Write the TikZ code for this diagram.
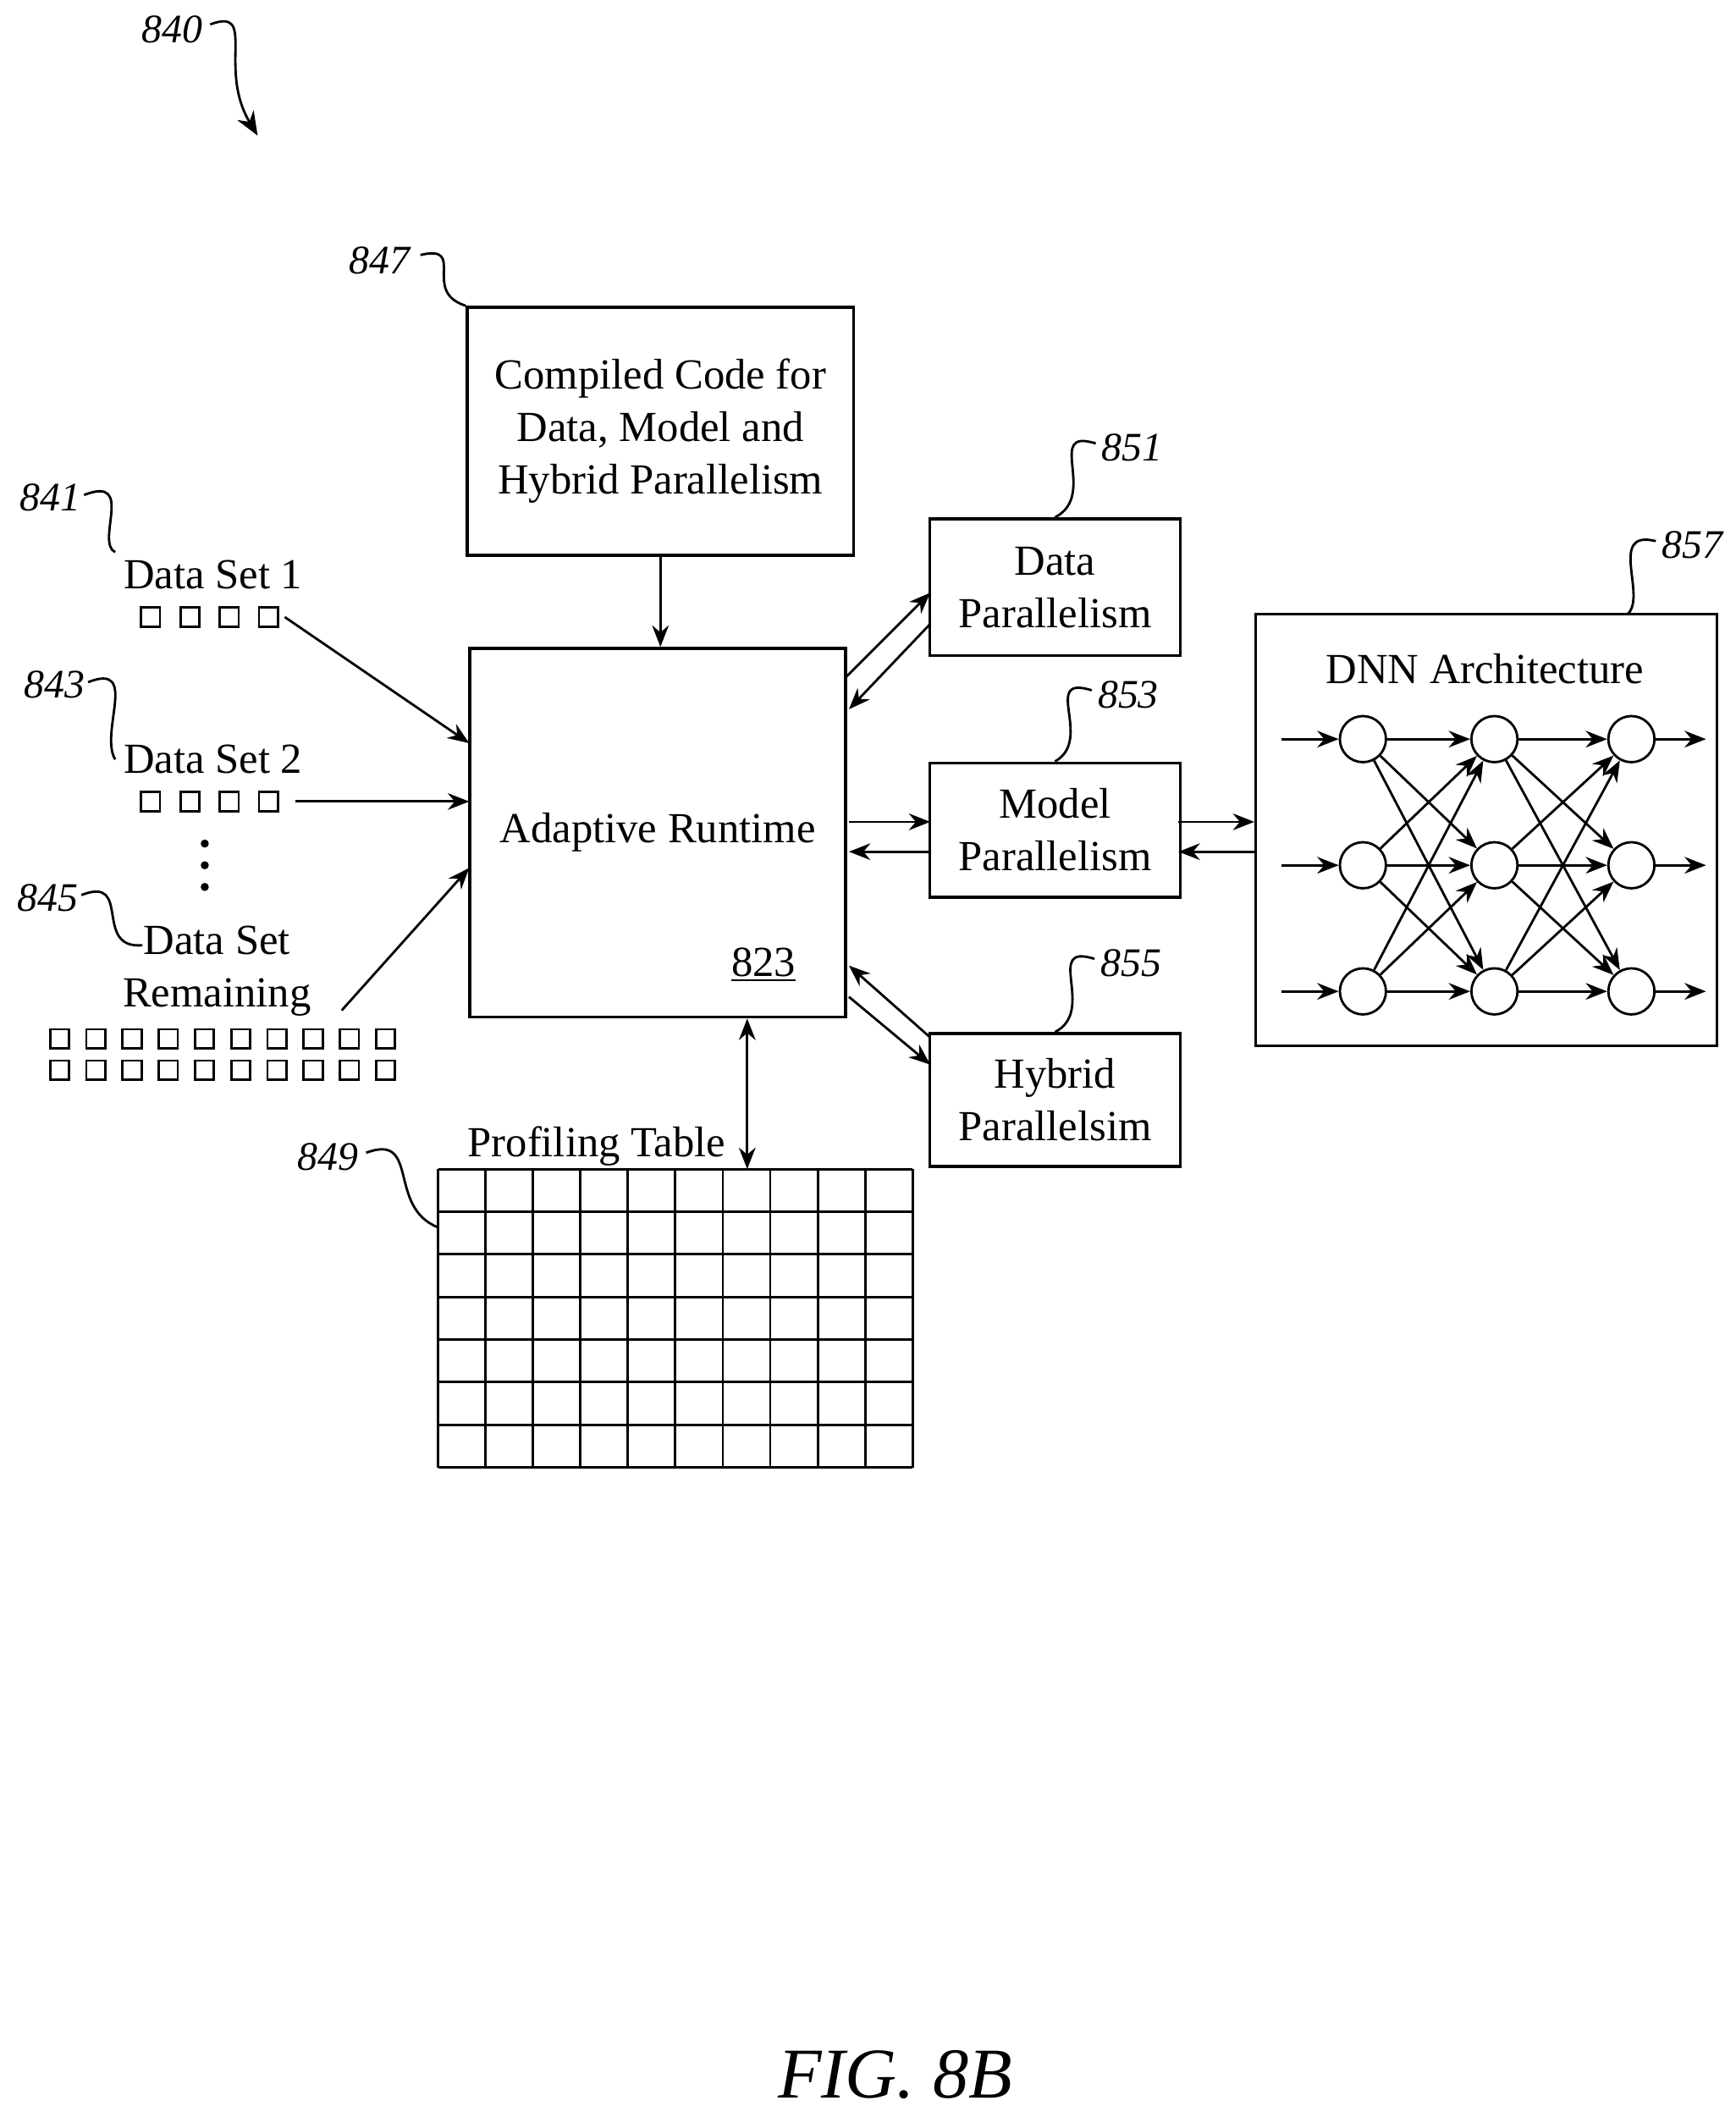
\documentclass[tikz,border=0pt]{standalone}
\usepackage{fontspec}
\setmainfont{Liberation Serif}
\usetikzlibrary{arrows.meta,positioning}

\tikzset{
  box/.style={draw,line width=1.2pt,align=center,font=\fontsize{18}{22}\selectfont},
  lbl/.style={font=\fontsize{17}{20}\selectfont\itshape},
  txt/.style={font=\fontsize{18}{22}\selectfont,align=center},
  arr/.style={-{Stealth[length=9pt,width=7pt]},line width=1pt},
  darr/.style={{Stealth[length=9pt,width=7pt]}-{Stealth[length=9pt,width=7pt]},line width=1pt},
  lead/.style={line width=1pt},
  sq/.style={draw,line width=1pt,minimum size=0.28cm,inner sep=0pt},
  neuron/.style={draw,circle,line width=1pt,minimum size=0.68cm,inner sep=0pt}
}

\begin{document}
\begin{tikzpicture}[x=0.02cm,y=-0.02cm]
\useasboundingbox (0,0) rectangle (1280,1561);

% figure number
\node[lbl] (l840) at (127,22) {840};
\draw[lead,-{Stealth[length=10pt,width=8pt]}] (155,18) .. controls (190,5) and (160,50) .. (190,100);

% compiled code and runtime
\node[box,minimum width=285*0.02cm,minimum height=183*0.02cm] (code) at (487,318)
  {Compiled Code for\\Data, Model and\\Hybrid Parallelism};
\node[box,minimum width=277*0.02cm,minimum height=272*0.02cm] (rt) at (485,614) {Adaptive Runtime};
\node[txt,anchor=base] at (563,720) {\underline{823}};
\draw[arr] (code.south) -- (code.south |- rt.north);
\node[lbl] (l847) at (280,192) {847};
\draw[lead] (310,188) .. controls (345,180) and (310,215) .. (code.north west);

% data sets
\node[txt] (ds1) at (157,424) {Data Set 1};
\node[txt] (ds2) at (157,560) {Data Set 2};
\node[txt] (dsr) at (160,716) {Data Set\\Remaining};
\foreach \i in {0,...,3} {
  \node[sq] at (111+\i*29,455) {};
  \node[sq] at (111+\i*29,591) {};
}
\foreach \i in {0,...,9} {
  \node[sq] at (44+\i*26.7,766) {};
  \node[sq] at (44+\i*26.7,789) {};
}
\foreach \y in {622,638,654} \fill (151,\y) circle (3);
\coordinate (in1) at (210,455);
\coordinate (in2) at (218,591);
\coordinate (in3) at (252,745);
\draw[arr] (in1) -- (346,548);
\draw[arr] (in2) -- (346,591);
\draw[arr] (in3) -- (346,640);
\node[lbl] (l841) at (37,367) {841};
\draw[lead] (62,365) .. controls (100,350) and (70,400) .. (ds1.north west);
\node[lbl] (l843) at (40,505) {843};
\draw[lead] (65,503) .. controls (103,488) and (73,540) .. (ds2.west);
\node[lbl] (l845) at (35,662) {845};
\draw[lead] (60,660) .. controls (98,645) and (68,700) .. (105,697);

% parallelism boxes
\node[box,minimum width=185*0.02cm,minimum height=101*0.02cm] (dp) at (778,433) {Data\\Parallelism};
\node[box,minimum width=185*0.02cm,minimum height=99*0.02cm] (mp) at (778,612) {Model\\Parallelism};
\node[box,minimum width=185*0.02cm,minimum height=98*0.02cm] (hp) at (778,811) {Hybrid\\Parallelsim};
\draw[arr] (623,500) -- (686,437);
\draw[arr] (686,460) -- (626,523);
\draw[arr] (626,606) -- (686,606);
\draw[arr] (686,628) -- (626,628);
\draw[arr] (626,735) -- (686,785);
\draw[arr] (686,765) -- (626,712);
\node[lbl] (l851) at (835,330) {851};
\draw[lead] (808,327) .. controls (770,315) and (810,365) .. (dp.north);
\node[lbl] (l853) at (832,512) {853};
\draw[lead] (805,509) .. controls (767,497) and (807,545) .. (mp.north);
\node[lbl] (l855) at (834,710) {855};
\draw[lead] (807,707) .. controls (769,695) and (809,745) .. (hp.north);

% DNN
\node[draw,line width=1.2pt,minimum width=340*0.02cm,minimum height=318*0.02cm] (dnn) at (1096,612) {};
\node[txt] at (1095,493) {DNN Architecture};
\draw[arr] (869,606) -- (dnn.west |- 0,606);
\draw[arr] (dnn.west |- 0,628) -- (869,628);
\node[lbl] (l857) at (1248,402) {857};
\draw[lead] (1221,399) .. controls (1185,390) and (1215,440) .. (1200,453);
\foreach \i/\x in {1/1005,2/1102,3/1203}
  \foreach \j/\y in {1/545,2/638,3/731}
    \node[neuron] (n-\i-\j) at (\x,\y) {};
\foreach \j/\y in {1/545,2/638,3/731} {
  \coordinate (src-\j) at (945,\y);
  \coordinate (dst-\j) at (1258,\y);
  \draw[arr] (src-\j) -- (n-1-\j);
  \draw[arr] (n-3-\j) -- (dst-\j);
}
\foreach \i/\k in {1/2,2/3}
  \foreach \a in {1,2,3}
    \foreach \b in {1,2,3}
      \draw[arr] (n-\i-\a) -- (n-\k-\b);

% profiling table
\node[txt] (ptl) at (440,845) {Profiling Table};
\foreach \c in {0,...,10} \draw[line width=1pt] (323+\c*35,862) -- (323+\c*35,1082);
\foreach \r in {0,...,7} \draw[line width=1pt] (323,862+\r*31.43) -- (673,862+\r*31.43);
\coordinate (pt) at (551,862);
\draw[darr] (rt.south -| pt) -- (pt);
\node[lbl] (l849) at (242,853) {849};
\draw[lead] (270,850) .. controls (310,835) and (285,890) .. (323,905);

\node[font=\fontsize{30}{34}\selectfont\itshape] (fig) at (660,1530) {FIG. 8B};
\end{tikzpicture}
\end{document}
